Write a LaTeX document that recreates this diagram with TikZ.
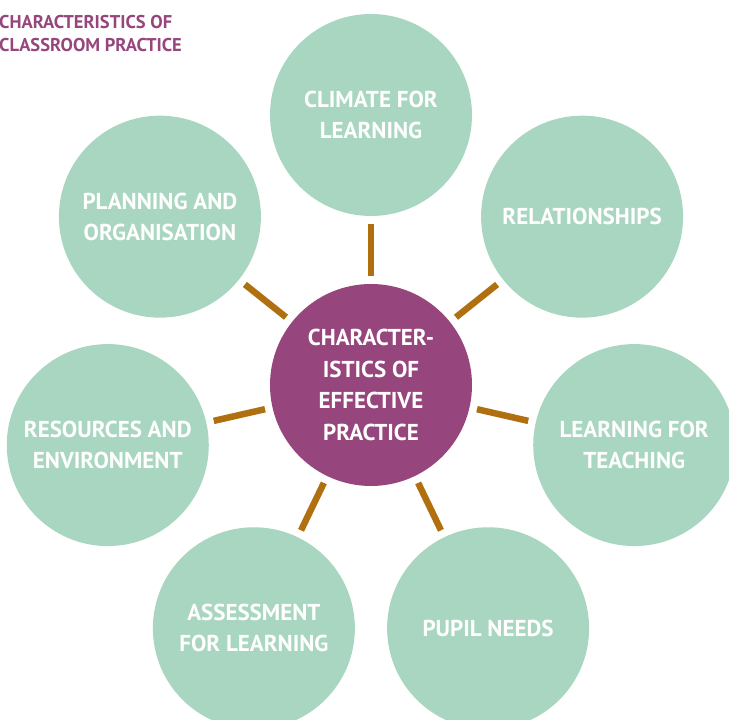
\documentclass[tikz,border=0pt]{standalone}
\usepackage{fontspec}
\setmainfont{PT Sans}
\usetikzlibrary{calc}

\definecolor{mint}{RGB}{169,214,192}
\definecolor{plum}{RGB}{150,70,124}
\definecolor{rust}{RGB}{176,112,16}

\tikzset{
  hub/.style={circle, fill=plum, minimum size=202pt, inner sep=0pt,
    text=white, align=center, font=\bfseries\fontsize{23}{31.5}\selectfont},
  petal/.style={circle, fill=mint, minimum size=202pt, inner sep=0pt,
    text=white, align=center, font=\bfseries\fontsize{23}{31}\selectfont},
  spoke/.style={draw=rust, line width=6.5pt, shorten >=7.5pt, shorten <=7.5pt},
  heading/.style={text=plum, align=left, inner sep=0pt,
    font=\bfseries\fontsize{18.5}{23.5}\selectfont}
}

\begin{document}
\begin{tikzpicture}[x=1pt, y=1pt]
      \useasboundingbox (0,0) rectangle (729,720);
      \clip (0,0) rectangle (729,720);

      \node[heading, anchor=north west] (heading) at (-1,705)
        {CHARACTERISTICS OF\\CLASSROOM PRACTICE};

      \node[hub] (centre) at (371,335) {CHARACTER-\\ISTICS OF\\EFFECTIVE\\PRACTICE};

      \node[petal] (climate) at ($(centre)+(90:270)$) {CLIMATE FOR\\LEARNING};
      \node[petal] (relation) at ($(centre)+(38.57:270)$) {RELATIONSHIPS};
      \node[petal] (learning) at ($(centre)+(-12.86:270)$) {LEARNING FOR\\TEACHING};
      \node[petal] (pupil) at ($(centre)+(-64.29:270)$) {PUPIL NEEDS};
      \node[petal] (assess) at ($(centre)+(-115.71:270)$) {ASSESSMENT\\FOR LEARNING};
      \node[petal] (resource) at ($(centre)+(192.86:270)$) {RESOURCES AND\\ENVIRONMENT};
      \node[petal] (planning) at ($(centre)+(141.43:270)$) {PLANNING AND\\ORGANISATION};

      \draw[spoke] (centre) -- (climate);
      \draw[spoke] (centre) -- (relation);
      \draw[spoke] (centre) -- (learning);
      \draw[spoke] (centre) -- (pupil);
      \draw[spoke] (centre) -- (assess);
      \draw[spoke] (centre) -- (resource);
      \draw[spoke] (centre) -- (planning);

\end{tikzpicture}
\end{document}
